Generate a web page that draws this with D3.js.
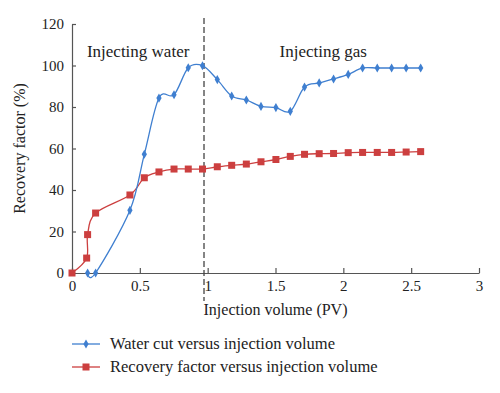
<!DOCTYPE html>
<html>
<head>
<meta charset="utf-8">
<script src="https://cdn.jsdelivr.net/npm/d3@7"></script>
<style>
body { margin: 0; background: #fff; }
text { font-family: "Liberation Serif", "DejaVu Serif", serif; fill: #222; }
</style>
</head>
<body>
<script>
const width = 500, height = 393;
const margin = { top: 24, right: 21, bottom: 120, left: 72 };

// injection volume (PV) for both series
const pv = [0.115, 0.174, 0.427, 0.533, 0.641, 0.752, 0.857, 0.962, 1.071, 1.177, 1.285,
	1.393, 1.503, 1.609, 1.714, 1.822, 1.928, 2.036, 2.142, 2.25, 2.356, 2.463, 2.57];
const waterCut = [0, 0, 30.2, 57.2, 84.3, 85.9, 98.9, 99.9, 93.2, 85.3, 83.4,
	80.3, 79.7, 77.9, 89.6, 91.6, 93.5, 95.7, 98.8, 98.8, 98.8, 98.8, 98.8];

const rfPv = [0, 0.108, 0.115, 0.174, 0.427, 0.533, 0.641, 0.752, 0.857, 0.962, 1.071, 1.177, 1.285,
	1.393, 1.503, 1.609, 1.714, 1.822, 1.928, 2.036, 2.142, 2.25, 2.356, 2.463, 2.57];
const recovery = [0, 7.2, 18.5, 28.9, 37.6, 45.9, 48.7, 50.1, 50.1, 50.1, 51.2, 51.9, 52.5,
	53.6, 54.7, 56.2, 57.2, 57.5, 57.6, 58.0, 58.1, 58.1, 58.1, 58.3, 58.5];

const xTicks = [0, 0.5, 1, 1.5, 2, 2.5, 3];
const yTicks = [0, 20, 40, 60, 80, 100, 120];
const switchPv = 0.973;

const blue = '#3f7fd0', red = '#cc3f3f', axisCol = '#555';

const svg = d3.select('body').append('svg')
	.attr('width', width)
	.attr('height', height);

const x = d3.scaleLinear().domain([0, 3]).range([margin.left, width - margin.right]);
const y = d3.scaleLinear().domain([0, 120]).range([height - margin.bottom, margin.top]);

// axes
const xAxis = svg.append('g')
	.attr('transform', `translate(0,${y(0)})`)
	.call(d3.axisBottom(x).tickValues(xTicks).tickFormat(d3.format('')).tickSizeInner(-5).tickSizeOuter(0).tickPadding(4));
const yAxis = svg.append('g')
	.attr('transform', `translate(${x(0)},0)`)
	.call(d3.axisLeft(y).tickValues(yTicks).tickSizeInner(-4).tickSizeOuter(0).tickPadding(8));

[xAxis, yAxis].forEach(a => {
	a.selectAll('path, line').attr('stroke', axisCol).attr('stroke-width', 1.2);
	a.selectAll('text').style('font-size', '15px').attr('fill', '#222')
		.style('font-family', '"Liberation Serif", serif');
});
xAxis.selectAll('text').attr('dy', '0.95em');

svg.append('text')
	.attr('x', x(1.5)).attr('y', y(0) + 42)
	.attr('text-anchor', 'middle')
	.style('font-size', '16px')
	.text('Injection volume (PV)');

svg.append('text')
	.attr('transform', `translate(25,${y(60)}) rotate(-90)`)
	.attr('text-anchor', 'middle')
	.style('font-size', '16px')
	.text('Recovery factor (%)');

// switch from water to gas
svg.append('line')
	.attr('x1', x(switchPv)).attr('x2', x(switchPv))
	.attr('y1', 18).attr('y2', y(0) + 28)
	.attr('stroke', '#444').attr('stroke-width', 1.3)
	.attr('stroke-dasharray', '6,3');

svg.append('text').attr('x', x(0.11)).attr('y', 57).style('font-size', '17px').text('Injecting water');
svg.append('text').attr('x', x(1.53)).attr('y', 57).style('font-size', '17px').text('Injecting gas');

const line = d3.line().curve(d3.curveCatmullRom.alpha(0));

const waterPts = pv.map((v, i) => [x(v), y(waterCut[i])]);
const rfPts = rfPv.map((v, i) => [x(v), y(recovery[i])]);

svg.append('path').attr('d', line(rfPts))
	.attr('fill', 'none').attr('stroke', red).attr('stroke-width', 1.3);
svg.append('path').attr('d', line(waterPts))
	.attr('fill', 'none').attr('stroke', blue).attr('stroke-width', 1.3);

const diamond = d3.symbol().type(d3.symbolDiamond).size(24);

svg.append('g').selectAll('rect')
	.data(rfPts).join('rect')
	.attr('x', d => d[0] - 3.5).attr('y', d => d[1] - 3.5)
	.attr('width', 7).attr('height', 7)
	.attr('fill', red);

svg.append('g').selectAll('path')
	.data(waterPts).join('path')
	.attr('transform', d => `translate(${d[0]},${d[1]})`)
	.attr('d', diamond)
	.attr('fill', blue);

// legend
const legend = [
	{ label: 'Water cut versus injection volume', color: blue, mark: 'diamond' },
	{ label: 'Recovery factor versus injection volume', color: red, mark: 'square' }
];
const lg = svg.append('g').selectAll('g')
	.data(legend).join('g')
	.attr('transform', (d, i) => `translate(72,${344 + i * 23})`);
lg.append('line').attr('x1', 0).attr('x2', 28)
	.attr('stroke', d => d.color).attr('stroke-width', 1.3);
lg.each(function(d) {
	const g = d3.select(this);
	if (d.mark === 'diamond')
		g.append('path').attr('transform', 'translate(14,0)').attr('d', diamond).attr('fill', d.color);
	else
		g.append('rect').attr('x', 10.5).attr('y', -3.5).attr('width', 7).attr('height', 7).attr('fill', d.color);
});
lg.append('text').attr('x', 38).attr('dy', '0.33em')
	.style('font-size', '16.5px')
	.text(d => d.label);
</script>
</body>
</html>
